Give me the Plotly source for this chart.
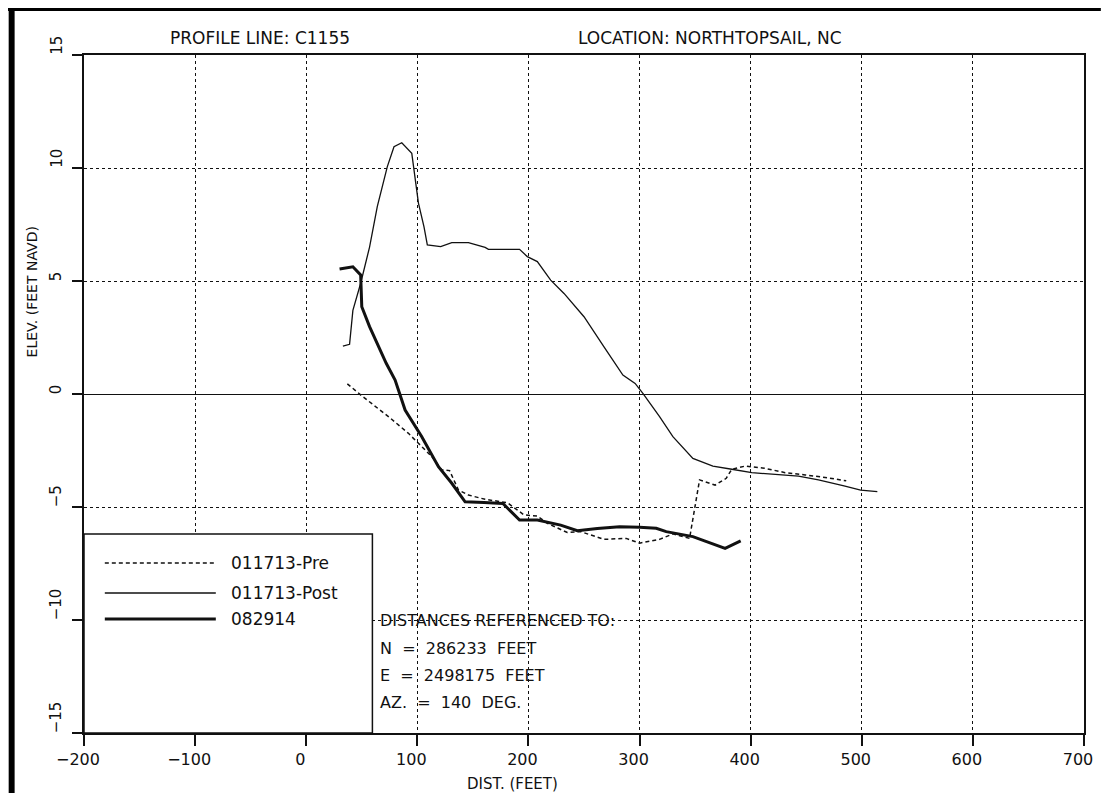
import plotly.graph_objects as go

# ---------------- data ----------------
pre_x = [37, 51, 74, 92, 104, 113, 122, 129, 137, 146, 161, 181, 196, 208, 217, 235, 247, 268,
         288, 300, 318, 330, 345, 349, 354, 368, 378, 383, 395, 413, 431, 449, 467, 486]
pre_y = [0.45, -0.12, -1.0, -1.74, -2.33, -2.77, -3.36, -3.39, -4.25, -4.47, -4.66, -4.81, -5.35,
         -5.4, -5.72, -6.13, -6.09, -6.43, -6.39, -6.6, -6.43, -6.19, -6.39, -5.28, -3.8, -4.03,
         -3.73, -3.33, -3.19, -3.29, -3.48, -3.58, -3.69, -3.84]

post_x = [33, 39, 42, 49, 57, 64, 73, 79, 86, 95, 101, 106, 109, 121, 131, 146, 161, 164, 192,
          199, 208, 220, 232, 250, 268, 285, 296, 303, 318, 330, 348, 366, 383, 401, 443, 461,
          484, 499, 514]
post_y = [2.12, 2.2, 3.7, 4.9, 6.5, 8.3, 10.06, 10.94, 11.12, 10.65, 8.45, 7.4, 6.6, 6.52, 6.7,
          6.7, 6.49, 6.4, 6.4, 6.08, 5.86, 5.04, 4.45, 3.42, 2.09, 0.84, 0.47, 0.03, -1.0, -1.89,
          -2.85, -3.19, -3.33, -3.48, -3.63, -3.8, -4.07, -4.25, -4.32]

s2014_x = [30, 42, 49, 50, 57, 72, 80, 89, 104, 119, 131, 143, 160, 177, 192, 208, 229, 244,
           262, 282, 300, 315, 324, 348, 377, 391]
s2014_y = [5.53, 5.63, 5.27, 3.86, 2.98, 1.36, 0.62, -0.71, -1.89, -3.22, -3.95, -4.77, -4.8,
           -4.84, -5.58, -5.58, -5.8, -6.05, -5.95, -5.87, -5.9, -5.94, -6.09, -6.31, -6.83, -6.5]

series_names = ["011713-Pre", "011713-Post", "082914"]
x_ticks = [-200, -100, 0, 100, 200, 300, 400, 500, 600, 700]
y_ticks = [-15, -10, -5, 0, 5, 10, 15]
title_left = "PROFILE LINE: C1155"
title_right = "LOCATION: NORTHTOPSAIL, NC"
ref_lines = ["DISTANCES REFERENCED TO:", "N  =  286233  FEET", "E  =  2498175  FEET",
             "AZ.  =  140  DEG."]

# ---------------- figure ----------------
FONT = "DejaVu Sans"
INK = "#111111"
W, H = 1094, 785
ML, MR, MT, MB = 76, 9, 47, 60
PW = W - ML - MR
PH = H - MT - MB
OFF = 8  # page offset of the figure in the screenshot


def px(xs):
    return (xs - OFF - ML) / PW


def py(ys):
    return (H - MB - (ys - OFF)) / PH


fig = go.Figure()
fig.add_trace(go.Scatter(x=pre_x, y=pre_y, mode="lines", name=series_names[0],
                         line=dict(color=INK, width=1.5, dash="4px,3px")))
fig.add_trace(go.Scatter(x=post_x, y=post_y, mode="lines", name=series_names[1],
                         line=dict(color=INK, width=1.3)))
fig.add_trace(go.Scatter(x=s2014_x, y=s2014_y, mode="lines", name=series_names[2],
                         line=dict(color=INK, width=3)))

shapes = []
annotations = []

# legend box
shapes.append(dict(type="rect", xref="paper", yref="paper", x0=0, x1=px(375), y0=0, y1=py(534),
                   fillcolor="white", line=dict(color=INK, width=1.5), layer="above"))
leg_y = [563, 593, 619]
leg_styles = [dict(color=INK, width=1.5, dash="4px,3px"), dict(color=INK, width=1.3),
              dict(color=INK, width=3)]
for name, yy, st in zip(series_names, leg_y, leg_styles):
    shapes.append(dict(type="line", xref="paper", yref="paper", x0=px(105), x1=px(217),
                       y0=py(yy), y1=py(yy), line=st, layer="above"))
    annotations.append(dict(xref="paper", yref="paper", x=px(230), y=py(yy), text=name,
                            showarrow=False, xanchor="left", yanchor="middle",
                            font=dict(family=FONT, size=17, color=INK)))

# reference text block
for txt, yy in zip(ref_lines, [620, 648, 675, 702]):
    annotations.append(dict(xref="paper", yref="paper", x=px(381), y=py(yy), text=txt,
                            showarrow=False, xanchor="left", yanchor="middle",
                            font=dict(family=FONT, size=16, color=INK)))

# titles
annotations.append(dict(xref="paper", yref="paper", x=px(262), y=py(38), text=title_left,
                        showarrow=False, xanchor="center", yanchor="middle",
                        font=dict(family=FONT, size=17, color=INK)))
annotations.append(dict(xref="paper", yref="paper", x=px(716), y=py(38), text=title_right,
                        showarrow=False, xanchor="center", yanchor="middle",
                        font=dict(family=FONT, size=17, color=INK)))
# axis titles
annotations.append(dict(xref="paper", yref="paper", x=px(32), y=py(292), text="ELEV. (FEET NAVD)",
                        showarrow=False, textangle=-90, xanchor="center", yanchor="middle",
                        font=dict(family=FONT, size=14, color=INK)))
annotations.append(dict(xref="paper", yref="paper", x=px(516), y=py(784), text="DIST. (FEET)",
                        showarrow=False, xanchor="center", yanchor="middle",
                        font=dict(family=FONT, size=15, color=INK)))
# rotated y tick labels
for v in y_ticks:
    annotations.append(dict(xref="paper", yref="y", x=px(56), y=v,
                            text=str(v).replace("-", "\u2212"), showarrow=False, textangle=-90,
                            xanchor="center", yanchor="bottom", yshift=-2,
                            font=dict(family=FONT, size=15, color=INK)))

# scanned page border
shapes.append(dict(type="rect", xref="paper", yref="paper", x0=px(8), x1=px(14), y0=py(801),
                   y1=py(3), fillcolor="black", line=dict(width=0), layer="above"))
shapes.append(dict(type="rect", xref="paper", yref="paper", x0=px(7), x1=px(1110), y0=py(11),
                   y1=py(3), fillcolor="black", line=dict(width=0), layer="above"))

fig.update_layout(
    width=W, height=H,
    margin=dict(l=ML, r=MR, t=MT, b=MB, pad=0),
    paper_bgcolor="white", plot_bgcolor="white",
    showlegend=False,
    font=dict(family=FONT, color=INK),
    shapes=shapes, annotations=annotations,
)
fig.update_xaxes(range=[-200, 700], tickvals=x_ticks, ticktext=[str(v).replace("-", "\u2212") for v in x_ticks],
                 showline=True, mirror=True, linecolor=INK, linewidth=1.5,
                 ticks="outside", ticklen=11, tickwidth=1.5, tickcolor=INK,
                 showgrid=True, gridcolor=INK, gridwidth=1.3, griddash="dot",
                 zeroline=False, tickfont=dict(family=FONT, size=16, color=INK),
                 ticklabelshift=-6)
fig.update_yaxes(range=[-15, 15], tickvals=y_ticks, showticklabels=False,
                 showline=True, mirror=True, linecolor=INK, linewidth=1.5,
                 ticks="outside", ticklen=10, tickwidth=1.5, tickcolor=INK,
                 showgrid=True, gridcolor=INK, gridwidth=1.3, griddash="dot",
                 zeroline=True, zerolinecolor=INK, zerolinewidth=1.2)

fig.write_html("out.html")
